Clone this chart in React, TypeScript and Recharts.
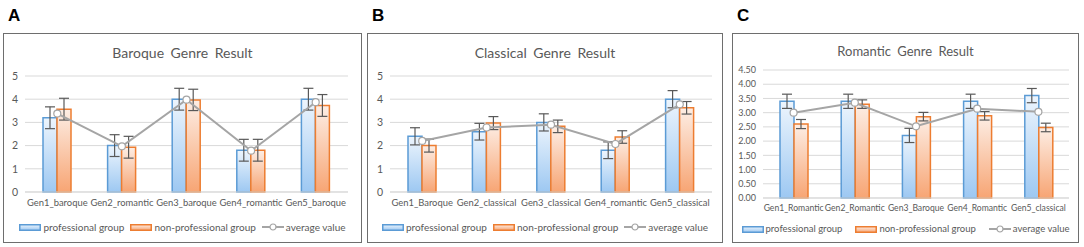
import React from "react";
import { ComposedChart, Bar, Line, XAxis, YAxis, CartesianGrid, ErrorBar } from "recharts";

// Panel A
const baroqueCats = ["Gen1_baroque", "Gen2_romantic", "Gen3_baroque", "Gen4_romantic", "Gen5_baroque"];
const baroqueProf = [3.2, 2.0, 4.0, 1.8, 4.0];
const baroqueProfErr = [0.47, 0.47, 0.47, 0.47, 0.47];
const baroqueNon = [3.57, 1.93, 3.97, 1.8, 3.73];
const baroqueNonErr = [0.47, 0.47, 0.46, 0.47, 0.47];
const baroqueAvg = [3.38, 1.97, 3.98, 1.78, 3.87];

// Panel B
const classicalCats = ["Gen1_Baroque", "Gen2_classical", "Gen3_classical", "Gen4_romantic", "Gen5_classical"];
const classicalProf = [2.4, 2.6, 3.0, 1.8, 4.0];
const classicalProfErr = [0.37, 0.36, 0.37, 0.36, 0.37];
const classicalNon = [2.0, 2.97, 2.83, 2.37, 3.63];
const classicalNonErr = [0.28, 0.28, 0.27, 0.27, 0.27];
const classicalAvg = [2.2, 2.78, 2.9, 2.07, 3.78];

// Panel C
const romanticCats = ["Gen1_Romantic", "Gen2_Romantic", "Gen3_Baroque", "Gen4_Romantic", "Gen5_classical"];
const romanticProf = [3.4, 3.4, 2.2, 3.4, 3.6];
const romanticProfErr = [0.25, 0.25, 0.25, 0.25, 0.25];
const romanticNon = [2.6, 3.3, 2.86, 2.89, 2.48];
const romanticNonErr = [0.16, 0.15, 0.15, 0.15, 0.15];
const romanticAvg = [3.0, 3.35, 2.52, 3.14, 3.03];

const ticks5 = [0, 1, 2, 3, 4, 5];
const ticks45 = [0, 0.5, 1, 1.5, 2, 2.5, 3, 3.5, 4, 4.5];

const BLUE = "#5B9BD5";
const ORANGE = "#ED7D31";
const GRAY = "#A5A5A5";
const TEXT = "#595959";
const FONT = "Lato, 'Open Sans', sans-serif";

function build(cats: string[], prof: number[], profErr: number[], non: number[], nonErr: number[], avg: number[]) {
  return cats.map((name, i) => ({
    name,
    prof: prof[i],
    profErr: profErr[i],
    non: non[i],
    nonErr: nonErr[i],
    avg: avg[i],
  }));
}

type PanelProps = {
  id: string;
  letter: string;
  title: string;
  data: ReturnType<typeof build>;
  left: number;
  width: number;
  ticks: number[];
  domain: [number, number];
  fmt?: (v: number) => string;
  margin: { top: number; right: number; bottom: number; left: number };
  yWidth: number;
  xTickSize: number;
  yTickSize: number;
  titleSize: number;
  titleTop: number;
  legendTop: number;
  legendSize: number;
  legendGap: number;
};

function Legend({ id, top, size, gap }: { id: string; top: number; size: number; gap: number }) {
  const item: React.CSSProperties = { display: "flex", alignItems: "center", gap: 2 };
  return (
    <div
      style={{
        position: "absolute",
        top,
        left: 0,
        right: 0,
        display: "flex",
        justifyContent: "center",
        gap,
        fontFamily: FONT,
        fontSize: size,
        color: TEXT,
        lineHeight: "12px",
      }}
    >
      <div style={item}>
        <svg width={22} height={7} style={{ display: "block" }}>
          <defs>
            <linearGradient id={id + "lb"} x1="0" y1="0" x2="0" y2="1">
              <stop offset="0%" stopColor="#EAF3FC" />
              <stop offset="100%" stopColor="#9DC8F2" />
            </linearGradient>
            <linearGradient id={id + "lo"} x1="0" y1="0" x2="0" y2="1">
              <stop offset="0%" stopColor="#FDECE2" />
              <stop offset="100%" stopColor="#F7A574" />
            </linearGradient>
          </defs>
          <rect x={0.75} y={0.75} width={20.5} height={5.5} fill={`url(#${id}lb)`} stroke={BLUE} strokeWidth={1.5} />
        </svg>
        <span>professional group</span>
      </div>
      <div style={item}>
        <svg width={22} height={7} style={{ display: "block" }}>
          <rect x={0.75} y={0.75} width={20.5} height={5.5} fill={`url(#${id}lo)`} stroke={ORANGE} strokeWidth={1.5} />
        </svg>
        <span>non-professional group</span>
      </div>
      <div style={item}>
        <svg width={22} height={8} style={{ display: "block" }}>
          <line x1={0} y1={4} x2={22} y2={4} stroke={GRAY} strokeWidth={2} />
          <circle cx={11} cy={4} r={3} fill="#fff" stroke={GRAY} strokeWidth={1.2} />
        </svg>
        <span>average value</span>
      </div>
    </div>
  );
}

function Panel(p: PanelProps) {
  const fmt = p.fmt ?? ((v: number) => String(v));
  return (
    <>
      <div
        style={{
          position: "absolute",
          left: p.left + 5,
          top: 6,
          fontFamily: "'Liberation Sans', Arial, sans-serif",
          fontWeight: 700,
          fontSize: 17,
          color: "#000",
        }}
      >
        {p.letter}
      </div>
      <div style={{ position: "absolute", left: p.left, top: 33, width: p.width, height: 210 }}>
        <div
          style={{
            position: "absolute",
            top: p.titleTop,
            left: 0,
            right: 0,
            textAlign: "center",
            fontFamily: FONT,
            fontSize: p.titleSize,
            color: TEXT,
            wordSpacing: 3,
            lineHeight: "16px",
          }}
        >
          {p.title}
        </div>
        <ComposedChart width={p.width} height={210} data={p.data} margin={p.margin} barGap={0}>
          <defs>
            <linearGradient id={p.id + "b"} x1="0" y1="0" x2="0" y2="1">
              <stop offset="0%" stopColor="#EDF5FD" />
              <stop offset="100%" stopColor="#9DC8F2" />
            </linearGradient>
            <linearGradient id={p.id + "o"} x1="0" y1="0" x2="0" y2="1">
              <stop offset="0%" stopColor="#FDEEE5" />
              <stop offset="100%" stopColor="#F7A574" />
            </linearGradient>
          </defs>
          <CartesianGrid vertical={false} stroke="#D9D9D9" />
          <XAxis
            dataKey="name"
            interval={0}
            height={20}
            tickLine={false}
            tickSize={0}
            tickMargin={7}
            axisLine={{ stroke: "#D9D9D9" }}
            tick={{ fill: TEXT, fontSize: p.xTickSize, fontFamily: FONT }}
          />
          <YAxis
            width={p.yWidth}
            domain={p.domain}
            ticks={p.ticks}
            interval={0}
            tickFormatter={fmt}
            axisLine={false}
            tickLine={false}
            tickSize={0}
            tickMargin={7}
            tick={{ fill: TEXT, fontSize: p.yTickSize, fontFamily: FONT }}
          />
          <Bar dataKey="prof" barSize={14} fill={`url(#${p.id}b)`} stroke={BLUE} strokeWidth={1.5} isAnimationActive={false}>
            <ErrorBar dataKey="profErr" width={5} stroke="#595959" strokeWidth={1.2} />
          </Bar>
          <Bar dataKey="non" barSize={14} fill={`url(#${p.id}o)`} stroke={ORANGE} strokeWidth={1.5} isAnimationActive={false}>
            <ErrorBar dataKey="nonErr" width={5} stroke="#595959" strokeWidth={1.2} />
          </Bar>
          <Line
            dataKey="avg"
            stroke={GRAY}
            strokeWidth={2}
            dot={{ r: 3.5, fill: "#fff", stroke: GRAY, strokeWidth: 1.2 }}
            isAnimationActive={false}
          />
        </ComposedChart>
        <Legend id={p.id} top={p.legendTop} size={p.legendSize} gap={p.legendGap} />
        <div
          style={{
            position: "absolute",
            inset: 0,
            border: "1.5px solid #6E6E6E",
            pointerEvents: "none",
          }}
        />
      </div>
    </>
  );
}

export default function App() {
  return (
    <div style={{ position: "absolute", left: 0, top: 0, width: 1084, height: 247, background: "#fff", overflow: "hidden" }}>
      <Panel
        id="pa"
        letter="A"
        title="Baroque Genre Result"
        data={build(baroqueCats, baroqueProf, baroqueProfErr, baroqueNon, baroqueNonErr, baroqueAvg)}
        left={3}
        width={359}
        ticks={ticks5}
        domain={[0, 5]}
        margin={{ top: 43, right: 14, bottom: 31, left: 2 }}
        yWidth={20}
        xTickSize={9.4}
        yTickSize={10.5}
        titleSize={14}
        titleTop={12}
        legendTop={188}
        legendSize={10}
        legendGap={6}
      />
      <Panel
        id="pb"
        letter="B"
        title="Classical Genre Result"
        data={build(classicalCats, classicalProf, classicalProfErr, classicalNon, classicalNonErr, classicalAvg)}
        left={367}
        width={356}
        ticks={ticks5}
        domain={[0, 5]}
        margin={{ top: 43, right: 11, bottom: 31, left: 3 }}
        yWidth={20}
        xTickSize={9.4}
        yTickSize={10.5}
        titleSize={14}
        titleTop={12}
        legendTop={188}
        legendSize={10}
        legendGap={6}
      />
      <Panel
        id="pc"
        letter="C"
        title="Romantic Genre Result"
        data={build(romanticCats, romanticProf, romanticProfErr, romanticNon, romanticNonErr, romanticAvg)}
        left={732}
        width={347}
        ticks={ticks45}
        domain={[0, 4.5]}
        fmt={(v) => v.toFixed(2)}
        margin={{ top: 37, right: 10, bottom: 25, left: 3 }}
        yWidth={28}
        xTickSize={8.6}
        yTickSize={9}
        titleSize={13}
        titleTop={10}
        legendTop={190}
        legendSize={9.5}
        legendGap={13}
      />
    </div>
  );
}
